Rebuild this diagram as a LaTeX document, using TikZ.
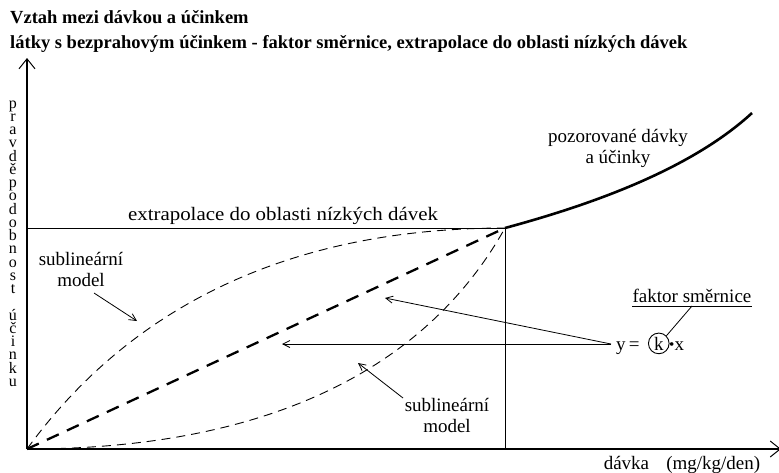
\documentclass[tikz,border=0pt]{standalone}
\usepackage{fontspec}
\setmainfont{Liberation Serif}
\usetikzlibrary{arrows.meta}
\begin{document}
\begin{tikzpicture}[x=1pt,y=-1pt,
  lbl/.style={font=\fontsize{19}{21}\selectfont, inner sep=0pt},
  ylet/.style={font=\fontsize{16}{13.24}\selectfont, inner sep=0pt, align=center, anchor=north},
  ttl/.style={font=\fontsize{18.5}{20}\selectfont\bfseries, inner sep=0pt, anchor=base west},
  axis/.style={line width=1.1pt, -{Straight Barb[length=10pt,width=16pt,line width=1pt]}},
  ptr/.style={line width=0.8pt, -{Straight Barb[length=7pt,width=7pt,line width=0.8pt]}},
  thin dash/.style={line width=0.9pt, dash pattern=on 9pt off 6pt},
  thick dash/.style={line width=2.3pt, dash pattern=on 13pt off 9pt},
  plain/.style={line width=1pt}]
\useasboundingbox[fill=white] (0,0) rectangle (779,472);
% titles
\node[ttl] (t1) at (10,23) {Vztah mezi dávkou a účinkem};
\node[ttl] (t2) at (10,48) {látky s bezprahovým účinkem - faktor směrnice, extrapolace do oblasti nízkých dávek};
% axes
\coordinate (O) at (27,449);
\coordinate (ytop) at (27,58);
\coordinate (xend) at (781,449);
\draw[axis] (O) -- (ytop);
\draw[axis] (O) -- (xend);
% y label (stacked letters)
\node[ylet] (ylab) at (13,100.5) {p\\r\\a\\v\\d\\ě\\p\\o\\d\\o\\b\\n\\o\\s\\t\\\mbox{}\\ú\\č\\i\\n\\k\\u};
% key points
\coordinate (P) at (505,228);
\coordinate (Pfoot) at (505,449);
\coordinate (H) at (27,228);
\coordinate (Q) at (752,113);
\draw[plain] (H) -- (P) -- (Pfoot);
% observed curve
\draw[line width=2.6pt] (P) .. controls (590,205) and (690,170) .. (Q);
% model curves
\draw[thin dash] (O) .. controls (150,280) and (330,228) .. (P);
\draw[thin dash] (O) .. controls (250,449) and (420,380) .. (P);
\draw[thick dash] (O) -- (P);
% labels
\node[lbl, anchor=base] (extr) at (283,220) {\scalebox{1.1}[1]{extrapolace do oblasti nízkých dávek}};
\node[lbl, align=center] (obs) at (618,148) {pozorované dávky\\a účinky};
\node[lbl, align=center] (sub1) at (81,269) {sublineární\\model};
\node[lbl, align=center] (sub2) at (447,415) {sublineární\\model};
\coordinate (a1s) at (94,293);
\coordinate (a1e) at (137,321);
\draw[ptr] (a1s) -- (a1e);
\coordinate (a2s) at (403,398);
\coordinate (a2e) at (358,363);
\draw[ptr] (a2s) -- (a2e);
% equation
\node[lbl, anchor=base west] (yeq) at (616,350) {y\,=};
\node[lbl, draw, circle, line width=0.9pt, inner sep=1.6pt, anchor=base west] (kk) at (648,350) {k};
\node[lbl, anchor=base west] (xx) at (669,350) {\raisebox{0.5pt}{\scalebox{0.8}{•}}x};
\coordinate (eqs) at (611,344);
\coordinate (tipA) at (282,344);
\coordinate (tipB) at (385,298);
\draw[ptr] (eqs) -- (tipA);
\draw[ptr] (eqs) -- (tipB);
% faktor smernice
\node[lbl, anchor=base] (fak) at (692,302) {faktor směrnice};
\draw[line width=0.8pt] ([yshift=-4pt]fak.base west) -- ([yshift=-4pt]fak.base east);
\coordinate (fl) at (692,306);
\draw[line width=0.8pt] (fl) -- (kk.north east);
% x label
\node[lbl, anchor=base] (xl) at (682,469) {dávka\hspace{0.9em}(mg/kg/den)};
\end{tikzpicture}
\end{document}
